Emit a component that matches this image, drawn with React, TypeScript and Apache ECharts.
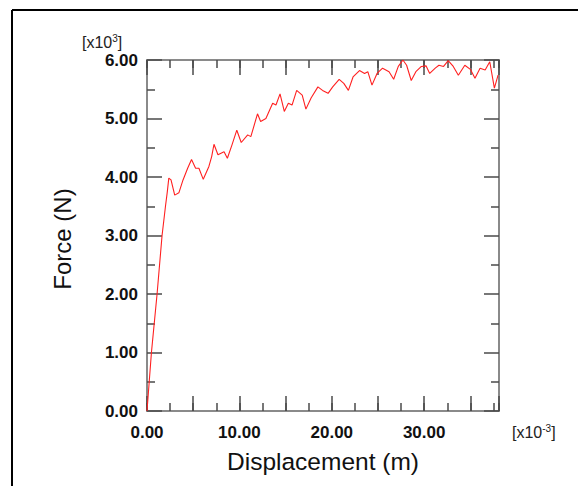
import React, { useEffect, useRef } from "react";
import * as echarts from "echarts";

const displacement = [0, 0.48, 1.09, 1.63, 2.0, 2.2, 2.36, 2.6, 3.0, 3.45, 3.9, 4.4, 4.82, 5.26, 5.62, 6.09, 6.7, 7.0, 7.25, 7.68, 8.34, 8.7, 9.2, 9.72, 10.2, 10.9, 11.24, 11.96, 12.3, 12.87, 13.6, 13.96, 14.4, 14.86, 15.3, 15.7, 16.2, 16.8, 17.2, 17.76, 18.5, 19.0, 19.6, 20.1, 20.8, 21.3, 21.8, 22.3, 23.0, 23.55, 23.9, 24.35, 24.9, 25.5, 26.2, 26.7, 27.2, 27.7, 28.1, 28.6, 29.1, 29.7, 30.2, 30.6, 31.2, 31.6, 32.1, 32.6, 33.15, 33.7, 34.4, 35.0, 35.5, 36.05, 36.6, 37.1, 37.6, 38.0];
const force = [0, 1.0, 2.0, 3.0, 3.5, 3.75, 3.98, 3.95, 3.69, 3.73, 3.95, 4.15, 4.30, 4.15, 4.15, 3.96, 4.18, 4.35, 4.56, 4.38, 4.43, 4.32, 4.55, 4.80, 4.59, 4.72, 4.69, 5.08, 4.95, 5.0, 5.26, 5.23, 5.42, 5.12, 5.26, 5.23, 5.48, 5.40, 5.16, 5.35, 5.54, 5.48, 5.43, 5.54, 5.67, 5.60, 5.48, 5.71, 5.82, 5.77, 5.80, 5.57, 5.77, 5.86, 5.80, 5.67, 5.89, 6.0, 5.91, 5.65, 5.80, 5.89, 5.90, 5.77, 5.86, 5.91, 5.89, 5.99, 5.89, 5.74, 5.91, 5.84, 5.69, 5.86, 5.83, 5.97, 5.52, 5.74];

const xMin = 0;
const xMax = 38.1;
const yMin = 0;
const yMax = 6;
const xTitle = "Displacement (m)";
const yTitle = "Force (N)";

const FONT = "Liberation Sans, Arial, sans-serif";
const AXIS_COLOR = "#8a8a8a";
const TICK_COLOR = "#4a4a4a";

export default function App() {
  const ref = useRef<HTMLDivElement>(null);
  useEffect(() => {
    if (!ref.current) return;
    const chart = echarts.init(ref.current, null, { renderer: "svg" });
    const data = displacement.map((d, i) => [d, force[i]]);

    const xBase = (position: string, interval: number, len: number, labels: boolean, line: boolean) => ({
      type: "value",
      position,
      min: xMin,
      max: xMax,
      interval,
      axisLine: { show: line, onZero: false, lineStyle: { color: AXIS_COLOR, width: 2 } },
      axisTick: { show: true, inside: true, length: len, lineStyle: { color: TICK_COLOR, width: 1.5 } },
      axisLabel: labels
        ? {
            show: true,
            margin: 13,
            color: "#111",
            fontFamily: FONT,
            fontSize: 17,
            fontWeight: "bold",
            formatter: (v: number) => (Math.abs(v % 10) < 1e-6 ? v.toFixed(2) : ""),
          }
        : { show: false },
      splitLine: { show: false },
    });

    const yBase = (position: string, labels: boolean) => ({
      type: "value",
      position,
      min: yMin,
      max: yMax,
      interval: 1,
      axisLine: { show: true, onZero: false, lineStyle: { color: AXIS_COLOR, width: 2 } },
      axisTick: { show: true, inside: true, length: 15, lineStyle: { color: TICK_COLOR, width: 1.5 } },
      minorTick: { show: true, splitNumber: 2, length: 8, lineStyle: { color: TICK_COLOR, width: 1.5 } },
      axisLabel: labels
        ? {
            show: true,
            margin: 9,
            color: "#111",
            fontFamily: FONT,
            fontSize: 17,
            fontWeight: "bold",
            formatter: (v: number) => v.toFixed(2),
          }
        : { show: false },
      splitLine: { show: false },
    });

    chart.setOption({
      animation: false,
      backgroundColor: "#fff",
      grid: { left: 147, top: 60, right: 79, bottom: 75, containLabel: false },
      xAxis: [
        xBase("bottom", 2.5, 8, true, true),
        xBase("bottom", 5, 15, false, false),
        xBase("top", 2.5, 8, false, true),
        xBase("top", 5, 15, false, false),
      ],
      yAxis: [yBase("left", true), yBase("right", false)],
      series: [
        {
          type: "line",
          xAxisIndex: 0,
          yAxisIndex: 0,
          data,
          showSymbol: false,
          symbol: "none",
          lineStyle: { color: "#ff2020", width: 1.1 },
        },
      ],
      graphic: [
        { type: "line", shape: { x1: 12, y1: 10, x2: 578, y2: 10 }, style: { stroke: "#000", lineWidth: 2 } },
        { type: "line", shape: { x1: 12, y1: 10, x2: 12, y2: 486 }, style: { stroke: "#000", lineWidth: 2 } },
        {
          type: "text",
          x: 62,
          y: 239,
          rotation: Math.PI / 2,
          style: {
            text: yTitle,
            font: `24px ${FONT}`,
            fill: "#111",
            align: "center",
            verticalAlign: "middle",
          },
        },
        {
          type: "text",
          x: 323,
          y: 461,
          style: {
            text: xTitle,
            font: `24.5px ${FONT}`,
            fill: "#111",
            align: "center",
            verticalAlign: "middle",
          },
        },
        {
          type: "text",
          x: 82,
          y: 33,
          style: {
            text: "[x10{s|3}]",
            rich: { s: { fontSize: 10, fontFamily: FONT, fill: "#222", verticalAlign: "top", padding: [0, 0, 9, 0] } },
            fontSize: 16,
            fontFamily: FONT,
            fill: "#222",
          },
        },
        {
          type: "text",
          x: 512,
          y: 423,
          style: {
            text: "[x10{s|-3}]",
            rich: { s: { fontSize: 10, fontFamily: FONT, fill: "#222", verticalAlign: "top", padding: [0, 0, 9, 0] } },
            fontSize: 16,
            fontFamily: FONT,
            fill: "#222",
          },
        },
      ],
    });
    return () => chart.dispose();
  }, []);
  return (
    <div
      ref={ref}
      style={{ position: "absolute", left: 0, top: 0, width: 578, height: 486 }}
    />
  );
}
